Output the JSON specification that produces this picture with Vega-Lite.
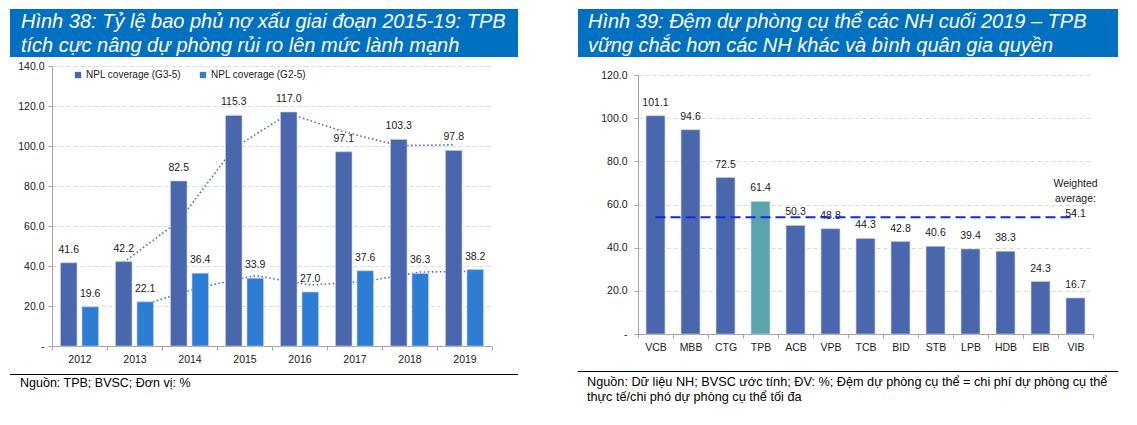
{
  "$schema": "https://vega.github.io/schema/vega-lite/v6.json",
  "background": "white",
  "padding": {"left": 10, "top": 9, "right": 0, "bottom": 0},
  "config": {
    "view": {"stroke": null},
    "font": "Liberation Sans",
    "axis": {"labelFont": "Liberation Sans", "labelFontSize": 10.5, "labelColor": "#1a1a1a", "domainColor": "#a6a6a6", "tickColor": "#a6a6a6", "tickSize": 4, "title": null},
    "legend": {"labelFont": "Liberation Sans", "labelFontSize": 10, "labelColor": "#1a1a1a"},
    "text": {"font": "Liberation Sans", "fontSize": 10.5, "color": "#1a1a1a"}
  },
  "datasets": {
    "npl": [
      {"year": "2012", "series": "NPL coverage (G3-5)", "v": 41.6},
      {"year": "2012", "series": "NPL coverage (G2-5)", "v": 19.6},
      {"year": "2013", "series": "NPL coverage (G3-5)", "v": 42.2},
      {"year": "2013", "series": "NPL coverage (G2-5)", "v": 22.1},
      {"year": "2014", "series": "NPL coverage (G3-5)", "v": 82.5},
      {"year": "2014", "series": "NPL coverage (G2-5)", "v": 36.4},
      {"year": "2015", "series": "NPL coverage (G3-5)", "v": 115.3},
      {"year": "2015", "series": "NPL coverage (G2-5)", "v": 33.9},
      {"year": "2016", "series": "NPL coverage (G3-5)", "v": 117.0},
      {"year": "2016", "series": "NPL coverage (G2-5)", "v": 27.0},
      {"year": "2017", "series": "NPL coverage (G3-5)", "v": 97.1},
      {"year": "2017", "series": "NPL coverage (G2-5)", "v": 37.6},
      {"year": "2018", "series": "NPL coverage (G3-5)", "v": 103.3},
      {"year": "2018", "series": "NPL coverage (G2-5)", "v": 36.3},
      {"year": "2019", "series": "NPL coverage (G3-5)", "v": 97.8},
      {"year": "2019", "series": "NPL coverage (G2-5)", "v": 38.2}
    ],
    "trend": [
      {"year": "2013", "series": "NPL coverage (G3-5)", "v": 41.9},
      {"year": "2014", "series": "NPL coverage (G3-5)", "v": 62.4},
      {"year": "2015", "series": "NPL coverage (G3-5)", "v": 98.9},
      {"year": "2016", "series": "NPL coverage (G3-5)", "v": 116.2},
      {"year": "2017", "series": "NPL coverage (G3-5)", "v": 107.1},
      {"year": "2018", "series": "NPL coverage (G3-5)", "v": 100.2},
      {"year": "2019", "series": "NPL coverage (G3-5)", "v": 100.6},
      {"year": "2013", "series": "NPL coverage (G2-5)", "v": 20.9},
      {"year": "2014", "series": "NPL coverage (G2-5)", "v": 29.3},
      {"year": "2015", "series": "NPL coverage (G2-5)", "v": 35.2},
      {"year": "2016", "series": "NPL coverage (G2-5)", "v": 30.5},
      {"year": "2017", "series": "NPL coverage (G2-5)", "v": 32.3},
      {"year": "2018", "series": "NPL coverage (G2-5)", "v": 37.0},
      {"year": "2019", "series": "NPL coverage (G2-5)", "v": 37.3}
    ],
    "banks": [
      {"bank": "VCB", "v": 101.1},
      {"bank": "MBB", "v": 94.6},
      {"bank": "CTG", "v": 72.5},
      {"bank": "TPB", "v": 61.4},
      {"bank": "ACB", "v": 50.3},
      {"bank": "VPB", "v": 48.8},
      {"bank": "TCB", "v": 44.3},
      {"bank": "BID", "v": 42.8},
      {"bank": "STB", "v": 40.6},
      {"bank": "LPB", "v": 39.4},
      {"bank": "HDB", "v": 38.3},
      {"bank": "EIB", "v": 24.3},
      {"bank": "VIB", "v": 16.7}
    ],
    "blank": [{"t": ""}]
  },
  "spacing": 60,
  "resolve": {"scale": {"color": "independent"}, "legend": {"color": "independent"}},
  "hconcat": [
    {
      "columns": 1,
      "align": "none",
      "spacing": 4,
      "resolve": {"scale": {"color": "independent"}, "legend": {"color": "independent"}},
      "concat": [
        {
          "width": 508,
          "height": 48,
          "view": {"fill": "#0070C0", "stroke": null},
          "title": {
            "text": ["Hình 38: Tỷ lệ bao phủ nợ xấu giai đoạn 2015-19: TPB", "tích cực nâng dự phòng rủi ro lên mức lành mạnh"],
            "orient": "top", "anchor": "start", "frame": "group", "offset": -47, "baseline": "top", "dx": 11,
            "font": "Liberation Sans", "fontSize": 20, "fontStyle": "italic", "fontWeight": "normal", "color": "#ffffff", "lineHeight": 24
          },
          "data": {"name": "blank"},
          "mark": "text",
          "encoding": {"text": {"field": "t"}}
        },
        {
          "spacing": 0,
          "resolve": {"scale": {"color": "independent"}, "legend": {"color": "independent"}},
          "hconcat": [
            {
              "width": 1,
              "height": 1,
              "data": {"name": "blank"},
              "mark": "text",
              "encoding": {"text": {"field": "t"}}
            },
            {
              "width": 440,
              "height": 280,
              "encoding": {
                "x": {
                  "field": "year", "type": "nominal",
                  "scale": {"paddingInner": 0, "paddingOuter": 0},
                  "axis": {"labelAngle": 0, "tickBand": "extent", "labelPadding": 4}
                },
                "xOffset": {
                  "field": "series", "type": "nominal",
                  "scale": {"domain": ["NPL coverage (G3-5)", "NPL coverage (G2-5)"], "paddingInner": 0.233, "paddingOuter": 0.396}
                },
                "y": {
                  "field": "v", "type": "quantitative",
                  "scale": {"domain": [0, 140], "nice": false},
                  "axis": {
                    "values": [0, 20, 40, 60, 80, 100, 120, 140],
                    "labelExpr": "datum.value === 0 ? '-' : format(datum.value, '.1f')",
                    "gridDash": [4, 3], "gridColor": "#d9d9d9", "labelPadding": 4, "minExtent": 41
                  }
                }
              },
              "layer": [
                {
                  "data": {"name": "trend"},
                  "mark": {"type": "line", "strokeDash": [1.5, 2.5], "strokeWidth": 1.6, "color": "#3F6FC8"},
                  "encoding": {"detail": {"field": "series"}}
                },
                {
                  "data": {"name": "npl"},
                  "mark": {"type": "bar", "stroke": "#c5cfe8", "strokeWidth": 0.6},
                  "encoding": {
                    "color": {
                      "field": "series", "type": "nominal",
                      "scale": {"domain": ["NPL coverage (G3-5)", "NPL coverage (G2-5)"], "range": ["#4A66AC", "#2E7DD4"]},
                      "legend": {
                        "orient": "none", "legendX": 21, "legendY": 4, "direction": "horizontal", "title": null,
                        "symbolType": "square", "symbolSize": 40, "symbolStrokeWidth": 0, "columnPadding": 16, "labelOffset": 3, "padding": 0
                      }
                    }
                  }
                },
                {
                  "data": {"name": "npl"},
                  "mark": {"type": "text", "dy": -13},
                  "encoding": {"text": {"field": "v", "type": "quantitative", "format": ".1f"}}
                }
              ]
            }
          ]
        },
        {
          "width": 508,
          "height": 1,
          "view": {"fill": "#000000", "stroke": null},
          "title": {
            "text": "Nguồn: TPB; BVSC; Đơn vị: %",
            "orient": "bottom", "anchor": "start", "frame": "group", "offset": -3, "baseline": "top", "dx": 10,
            "font": "Liberation Sans", "fontSize": 12.5, "fontWeight": "normal", "color": "#000000"
          },
          "data": {"name": "blank"},
          "mark": "text",
          "encoding": {"text": {"field": "t"}}
        }
      ]
    },
    {
      "columns": 1,
      "align": "none",
      "spacing": 13,
      "resolve": {"scale": {"color": "independent"}, "legend": {"color": "independent"}},
      "concat": [
        {
          "width": 540,
          "height": 48,
          "view": {"fill": "#0070C0", "stroke": null},
          "title": {
            "text": ["Hình 39: Đệm dự phòng cụ thể các NH cuối 2019 – TPB", "vững chắc hơn các NH khác và bình quân gia quyền"],
            "orient": "top", "anchor": "start", "frame": "group", "offset": -47, "baseline": "top", "dx": 10,
            "font": "Liberation Sans", "fontSize": 20, "fontStyle": "italic", "fontWeight": "normal", "color": "#ffffff", "lineHeight": 24
          },
          "data": {"name": "blank"},
          "mark": "text",
          "encoding": {"text": {"field": "t"}}
        },
        {
          "spacing": 0,
          "hconcat": [
            {
              "width": 1,
              "height": 1,
              "data": {"name": "blank"},
              "mark": "text",
              "encoding": {"text": {"field": "t"}}
            },
            {
              "width": 455,
              "height": 259,
              "data": {"name": "banks"},
              "encoding": {
                "x": {
                  "field": "bank", "type": "nominal",
                  "scale": {"domain": ["VCB", "MBB", "CTG", "TPB", "ACB", "VPB", "TCB", "BID", "STB", "LPB", "HDB", "EIB", "VIB"], "paddingInner": 0, "paddingOuter": 0},
                  "axis": {"labelAngle": 0, "tickBand": "extent", "labelPadding": 4}
                },
                "y": {
                  "field": "v", "type": "quantitative",
                  "scale": {"domain": [0, 120], "nice": false},
                  "axis": {
                    "values": [0, 20, 40, 60, 80, 100, 120],
                    "labelExpr": "datum.value === 0 ? '-' : format(datum.value, '.1f')",
                    "gridDash": [4, 3], "gridColor": "#d9d9d9", "labelPadding": 7, "minExtent": 59
                  }
                }
              },
              "layer": [
                {
                  "mark": {"type": "bar", "width": {"band": 0.54}, "stroke": "#c5cfe8", "strokeWidth": 0.6},
                  "encoding": {
                    "color": {"condition": {"test": "datum.bank === 'TPB'", "value": "#5BA3AD"}, "value": "#4A66AC"}
                  }
                },
                {
                  "mark": {"type": "text", "dy": -13},
                  "encoding": {"text": {"field": "v", "type": "quantitative", "format": ".1f"}}
                },
                {
                  "data": {"values": [{"bank": "VCB", "to": "VIB", "v": 54.1}]},
                  "mark": {"type": "rule", "strokeDash": [10, 5], "strokeWidth": 2, "color": "#0B2BF0"},
                  "encoding": {"x2": {"field": "to"}}
                },
                {
                  "data": {"values": [{"bank": "VIB", "v": 54.1, "hi": 57.8}]},
                  "mark": {"type": "rule", "color": "#a6a6a6", "strokeWidth": 1},
                  "encoding": {"y2": {"field": "hi"}}
                },
                {
                  "data": {"values": [{"bank": "VIB", "v": 69.5, "label": "Weighted\naverage:\n54.1"}]},
                  "mark": {"type": "text", "lineBreak": "\n", "lineHeight": 15, "baseline": "middle"},
                  "encoding": {"text": {"field": "label"}}
                }
              ]
            }
          ]
        },
        {
          "width": 540,
          "height": 1,
          "view": {"fill": "#000000", "stroke": null},
          "title": {
            "text": ["Nguồn: Dữ liệu NH; BVSC ước tính; ĐV: %; Đệm dự phòng cụ thể = chi phí dự phòng cụ thể", "thực tế/chi phó dự phòng cụ thể tối đa"],
            "orient": "bottom", "anchor": "start", "frame": "group", "offset": -1, "baseline": "top", "dx": 9,
            "font": "Liberation Sans", "fontSize": 12.7, "fontWeight": "normal", "color": "#000000", "lineHeight": 15
          },
          "data": {"name": "blank"},
          "mark": "text",
          "encoding": {"text": {"field": "t"}}
        }
      ]
    }
  ]
}
